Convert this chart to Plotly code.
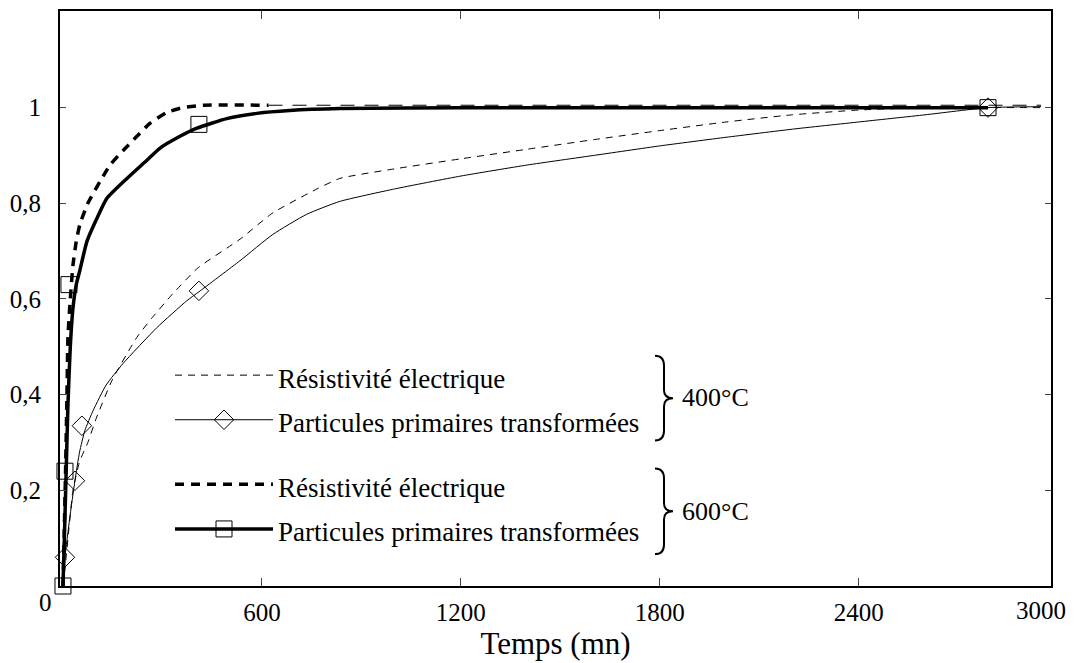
import plotly.graph_objects as go

# 400°C - résistivité électrique (thin dashed)
t_res_400 = [0, 8, 18, 30, 50, 75, 100, 148, 223, 268, 330, 407, 534, 633, 766, 835,
             1000, 1200, 1400, 1600, 1800, 2000, 2200, 2400, 2600, 2950]
v_res_400 = [0, 0.05, 0.12, 0.2, 0.26, 0.30, 0.35, 0.43, 0.52, 0.56, 0.61, 0.665, 0.725, 0.78, 0.83, 0.852,
             0.872, 0.893, 0.913, 0.933, 0.952, 0.97, 0.985, 0.995, 1.0, 1.0]

# 400°C - particules primaires transformées (thin solid, fitted curve + diamonds)
t_part_400 = [0, 6, 20, 36, 50, 66, 91, 130, 181, 283, 373, 410, 534, 633, 735, 835,
              1000, 1200, 1400, 1600, 1800, 2000, 2200, 2400, 2600, 2790, 2950]
v_part_400 = [0, 0.06, 0.14, 0.22, 0.28, 0.325, 0.367, 0.42, 0.465, 0.54, 0.596, 0.615, 0.68, 0.735, 0.777, 0.804,
              0.83, 0.857, 0.88, 0.90, 0.92, 0.938, 0.955, 0.97, 0.985, 1.0, 1.002]
t_pts_400 = [6, 36, 57, 410, 2790]
v_pts_400 = [0.06, 0.22, 0.335, 0.617, 1.0]

# 600°C - résistivité électrique (thick dashed)
t_res_600 = [0, 4, 8, 12, 15, 22, 30, 40, 51, 75, 112, 142, 181, 223, 262, 313, 362, 422, 620]
v_res_600 = [0, 0.12, 0.25, 0.4, 0.52, 0.6, 0.67, 0.72, 0.756, 0.80, 0.846, 0.88, 0.91, 0.94, 0.967, 0.99, 1.0, 1.005, 1.005]
t_res_600_tail = [620, 2950]
v_res_600_tail = [1.005, 1.005]

# 600°C - particules primaires transformées (thick solid + squares)
t_part_600 = [0, 5, 10, 15, 22, 30, 40, 51, 72, 100, 132, 193, 253, 292, 353, 404, 494, 585, 684, 835, 1200, 2790]
v_part_600 = [0, 0.12, 0.25, 0.38, 0.5, 0.58, 0.63, 0.66, 0.72, 0.765, 0.81, 0.852, 0.89, 0.915, 0.94, 0.957, 0.977, 0.988, 0.994, 0.998, 1.0, 1.0]
t_pts_600 = [0, 6, 18, 410, 2790]
v_pts_600 = [0, 0.24, 0.63, 0.965, 1.0]

x_ticks = [600, 1200, 1800, 2400]
y_ticks = [0.2, 0.4, 0.6, 0.8, 1]
y_ticktext = ["0,2", "0,4", "0,6", "0,8", "1"]

SERIF = "Liberation Serif"
L, R, T, B = 60, 1051, 9, 586


def px(x):
    return (x - L) / (R - L)


def py(y):
    return (B - y) / (B - T)


def lab(s):
    return '<span style="font-size:27px">' + s + '</span>'


fig = go.Figure()

# curves (no legend)
fig.add_trace(go.Scatter(x=t_res_400, y=v_res_400, mode='lines', showlegend=False,
                         line=dict(color='black', width=1, dash='7px,6px', shape='spline', smoothing=0.5)))
fig.add_trace(go.Scatter(x=t_part_400, y=v_part_400, mode='lines', showlegend=False,
                         line=dict(color='black', width=1, shape='spline', smoothing=0.5)))
fig.add_trace(go.Scatter(x=t_res_600_tail, y=v_res_600_tail, mode='lines', showlegend=False,
                         line=dict(color='black', width=1, dash='14px,10px')))
fig.add_trace(go.Scatter(x=t_res_600, y=v_res_600, mode='lines', showlegend=False,
                         line=dict(color='black', width=3.5, dash='9px,7px', shape='spline', smoothing=0.5)))
fig.add_trace(go.Scatter(x=t_part_600, y=v_part_600, mode='lines', showlegend=False,
                         line=dict(color='black', width=3.5, shape='spline', smoothing=0.5)))
fig.add_trace(go.Scatter(x=t_pts_400, y=v_pts_400, mode='markers', showlegend=False, cliponaxis=False,
                         marker=dict(symbol='diamond-open', size=15, color='black', line=dict(width=1))))
fig.add_trace(go.Scatter(x=t_pts_600, y=v_pts_600, mode='markers', showlegend=False, cliponaxis=False,
                         marker=dict(symbol='square-open', size=16, color='black', line=dict(width=1))))

# legend entries
fig.add_trace(go.Scatter(x=[None], y=[None], mode='lines', name=lab('Résistivité électrique'),
                         legendgroup='400', line=dict(color='black', width=1, dash='7px,6px')))
fig.add_trace(go.Scatter(x=[None], y=[None], mode='lines+markers', name=lab('Particules primaires transformées'),
                         legendgroup='400', line=dict(color='black', width=1),
                         marker=dict(symbol='diamond-open', size=15, color='black', line=dict(width=1))))
fig.add_trace(go.Scatter(x=[None], y=[None], mode='lines', name=lab('Résistivité électrique'),
                         legendgroup='600', line=dict(color='black', width=3.5, dash='9px,7px')))
fig.add_trace(go.Scatter(x=[None], y=[None], mode='lines+markers', name=lab('Particules primaires transformées'),
                         legendgroup='600', line=dict(color='black', width=3.5),
                         marker=dict(symbol='square-open', size=16, color='black', line=dict(width=1))))


def brace(y0, y1, xl=655, xb=664, xt=673):
    ym = (y0 + y1) / 2
    pts = [('M', [(xl, y0)]), ('Q', [(xb, y0), (xb, y0 + 10)]), ('L', [(xb, ym - 8)]),
           ('Q', [(xb, ym), (xt, ym)]), ('Q', [(xb, ym), (xb, ym + 8)]), ('L', [(xb, y1 - 10)]),
           ('Q', [(xb, y1), (xl, y1)])]
    d = ''
    for cmd, coords in pts:
        d += cmd + ' '.join('%.5f,%.5f' % (px(a), py(b)) for a, b in coords) + ' '
    return dict(type='path', path=d, xref='paper', yref='paper',
                line=dict(color='black', width=2))


fig.update_layout(
    width=1075, height=663,
    margin=dict(l=L, r=1075 - R, t=T, b=663 - B),
    paper_bgcolor='white', plot_bgcolor='white',
    font=dict(family=SERIF, size=22, color='black'),
    showlegend=True,
    legend=dict(x=px(170), y=py(347), xanchor='left', yanchor='top',
                bgcolor='rgba(0,0,0,0)', itemwidth=98, traceorder='grouped',
                tracegroupgap=20, font=dict(family=SERIF, size=32, color='black')),
    xaxis=dict(range=[-9, 2980], tickvals=x_ticks, ticks='inside', ticklen=8,
               showline=True, linecolor='black', linewidth=2, mirror='ticks',
               showgrid=False, zeroline=False, tickfont=dict(family=SERIF, size=25),
               ticklabelstandoff=3,
               title=dict(text='Temps (mn)', font=dict(family=SERIF, size=31), standoff=2)),
    yaxis=dict(range=[0, 1.202], tickvals=y_ticks, ticktext=y_ticktext, ticks='inside', ticklen=6,
               showline=True, linecolor='black', linewidth=2, mirror='ticks',
               showgrid=False, zeroline=False, tickfont=dict(family=SERIF, size=25),
               ticklabelstandoff=12),
    shapes=[brace(355, 440), brace(468, 554)],
    annotations=[
        dict(text='400°C', x=px(680), y=py(397), xref='paper', yref='paper', xanchor='left',
             yanchor='middle', showarrow=False, font=dict(size=26)),
        dict(text='600°C', x=px(680), y=py(511), xref='paper', yref='paper', xanchor='left',
             yanchor='middle', showarrow=False, font=dict(size=26)),
        dict(text='0', x=px(45), y=py(603), xref='paper', yref='paper', xanchor='center',
             yanchor='middle', showarrow=False, font=dict(size=25)),
        dict(text='3000', x=px(1041), y=py(611), xref='paper', yref='paper', xanchor='center',
             yanchor='middle', showarrow=False, font=dict(size=25)),
    ],
)

fig.write_html("out.html", config={'displayModeBar': False},
               post_script="document.body.style.margin='0px';")
